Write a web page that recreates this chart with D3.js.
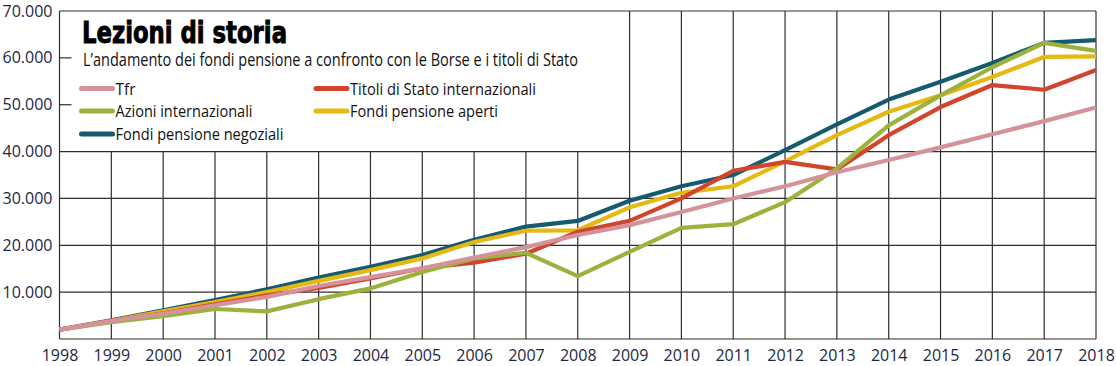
<!DOCTYPE html>
<html><head><meta charset="utf-8">
<script src="https://cdn.jsdelivr.net/npm/d3@7"></script>
<style>
html,body{margin:0;padding:0;background:#fff;}
svg{display:block;}
</style></head>
<body>
<svg id="chart" width="1116" height="366"></svg>
<script>
const years = [1998,1999,2000,2001,2002,2003,2004,2005,2006,2007,2008,2009,2010,2011,2012,2013,2014,2015,2016,2017,2018];
const yTicks = [10000,20000,30000,40000,50000,60000,70000];
const tfr       = [2000,3800,5400,7200,9000,11300,13200,15100,17400,19600,22200,24300,27100,30000,32600,35600,38200,40900,43700,46500,49400];
const titoli    = [2000,3800,5500,7400,9300,10900,12900,15100,16300,18200,22900,25200,30000,35900,37800,36200,43500,49500,54200,53200,57400];
const azioni    = [2000,3600,4900,6400,5900,8500,10800,14300,17200,18400,13400,18600,23700,24500,29200,36400,45600,52000,58000,63200,61500];
const aperti    = [2000,3900,5900,7900,10000,12400,14700,17200,20700,23100,23200,28100,31200,32600,37900,43500,48500,52000,55900,60200,60300];
const negoziali = [2000,4000,6100,8300,10600,13100,15400,17900,21200,24000,25200,29500,32600,35000,40300,45800,51100,54900,58900,63200,63800];
const seriesNames = ["Tfr","Titoli di Stato internazionali","Azioni internazionali","Fondi pensione aperti","Fondi pensione negoziali"];
const title = "Lezioni di storia";
const subtitle = "L\u2019andamento dei fondi pensione a confronto con le Borse e i titoli di Stato";

const colors = {
  "Tfr":"#d4939b",
  "Titoli di Stato internazionali":"#d1442d",
  "Azioni internazionali":"#9db13d",
  "Fondi pensione aperti":"#e6b812",
  "Fondi pensione negoziali":"#155a6f"
};
const seriesData = {
  "Tfr":tfr,
  "Titoli di Stato internazionali":titoli,
  "Azioni internazionali":azioni,
  "Fondi pensione aperti":aperti,
  "Fondi pensione negoziali":negoziali
};

const svg = d3.select("#chart");
const x = d3.scaleLinear().domain([1998,2018]).range([59.5,1096]);
const y = d3.scaleLinear().domain([0,70000]).range([339,11]);
const it = d3.formatLocale({decimal:",",thousands:".",grouping:[3],currency:["€",""]});
const fmt = it.format(",.0f");
const textCol = "#1b2746";
const gridCol = "#2e2e2e";

// grid
const g = svg.append("g");
g.selectAll("line.h").data([0,10000,20000,30000,40000,70000]).join("line")
  .attr("x1",x(1998)).attr("x2",x(2018))
  .attr("y1",d=>y(d)).attr("y2",d=>y(d))
  .attr("stroke",gridCol).attr("stroke-width",1.2);
g.selectAll("line.v").data(years).join("line")
  .attr("x1",d=>x(d)).attr("x2",d=>x(d))
  .attr("y1",d=> (d>1998 && d<2009) ? y(40000) : y(70000))
  .attr("y2",y(0))
  .attr("stroke",gridCol).attr("stroke-width",1.2);
g.selectAll("line.t").data([50000,60000]).join("line")
  .attr("x1",x(1998)).attr("x2",x(1998)+12)
  .attr("y1",d=>y(d)).attr("y2",d=>y(d))
  .attr("stroke",gridCol).attr("stroke-width",1.2);

// axes labels
const yAxis = d3.axisLeft(y).tickValues(yTicks).tickFormat(fmt).tickSize(0).tickPadding(7);
const ya = svg.append("g").attr("transform",`translate(${x(1998)},0)`).call(yAxis);
ya.select(".domain").remove();
ya.selectAll("text").attr("fill",textCol).style("font-family","'Open Sans'").style("font-size","16px");

const xAxis = d3.axisBottom(x).tickValues(years).tickFormat(d3.format("d")).tickSize(0).tickPadding(11);
const xa = svg.append("g").attr("transform",`translate(0,${y(0)})`).call(xAxis);
xa.select(".domain").remove();
xa.selectAll("text").attr("fill",textCol).style("font-family","'Open Sans'").style("font-size","16px");

// lines
const line = d3.line().x((d,i)=>x(years[i])).y(d=>y(d));
const drawOrder = ["Fondi pensione negoziali","Fondi pensione aperti","Titoli di Stato internazionali","Azioni internazionali","Tfr"];
svg.append("g").selectAll("path").data(drawOrder).join("path")
  .attr("d",n=>line(seriesData[n]))
  .attr("fill","none").attr("stroke",n=>colors[n])
  .attr("stroke-width",4.2).attr("stroke-linejoin","round").attr("stroke-linecap","butt");

// title
svg.append("text").attr("x",82).attr("y",42.5).text(title)
  .style("font-family","'DejaVu Sans Condensed','Liberation Sans Narrow',sans-serif")
  .style("font-weight","bold").style("font-size","31px").attr("fill","#000")
  .attr("stroke","#000").attr("stroke-width",0.9)
  .attr("textLength",205).attr("lengthAdjust","spacingAndGlyphs");
svg.append("text").attr("x",83).attr("y",66).text(subtitle)
  .style("font-family","'Liberation Sans Narrow','Open Sans',sans-serif")
  .style("font-size","17.5px").attr("fill","#111")
  .attr("textLength",495).attr("lengthAdjust","spacingAndGlyphs");

// legend
const legendPos = [
  {n:"Tfr", x:81.5, y:88.5, w:20},
  {n:"Titoli di Stato internazionali", x:316, y:88.5, w:186},
  {n:"Azioni internazionali", x:81.5, y:111, w:137},
  {n:"Fondi pensione aperti", x:316, y:111, w:148},
  {n:"Fondi pensione negoziali", x:81.5, y:134, w:168}
];
const lg = svg.append("g").selectAll("g").data(legendPos).join("g");
lg.append("line").attr("x1",d=>d.x).attr("x2",d=>d.x+31)
  .attr("y1",d=>d.y).attr("y2",d=>d.y)
  .attr("stroke",d=>colors[d.n]).attr("stroke-width",5).attr("stroke-linecap","round");
lg.append("text").attr("x",d=>d.x+34).attr("y",d=>d.y+6).text(d=>d.n)
  .style("font-family","'Liberation Sans Narrow','Open Sans',sans-serif")
  .style("font-size","17px").attr("fill","#111")
  .attr("textLength",d=>d.w).attr("lengthAdjust","spacingAndGlyphs");
</script>
</body></html>
